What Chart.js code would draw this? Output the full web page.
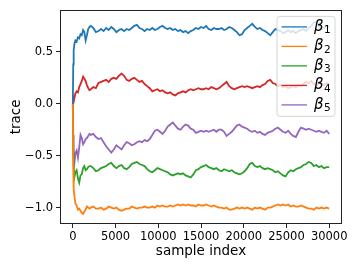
<!DOCTYPE html>
<html>
<head>
<meta charset="utf-8">
<script src="https://cdn.jsdelivr.net/npm/chart.js@4/dist/chart.umd.min.js"></script>
<style>
  body { margin: 0; background: #fff; }
  #wrap { width: 357px; height: 268px; }
</style>
</head>
<body>
<div id="wrap"><canvas id="trace"></canvas></div>
<script>
const sampleIdx = [
  0, 50, 100, 200, 300, 450, 600, 750, 900, 1050, 1200, 1350, 1500, 1650, 1800, 1950,
  2100, 2400, 2700, 3000, 3300, 3600, 3900, 4200, 4500, 4800,
  5100, 5400, 5700, 6000, 6300, 6600, 6900, 7200, 7500, 7800,
  8100, 8400, 8700, 9000, 9300, 9600, 9900, 10200, 10500, 10800,
  11100, 11400, 11700, 12000, 12300, 12600, 12900, 13200, 13500, 13800,
  14100, 14400, 14700, 15000, 15300, 15600, 15900, 16200, 16500, 16800,
  17100, 17400, 17700, 18000, 18300, 18600, 18900, 19200, 19500, 19800,
  20100, 20400, 20700, 21000, 21300, 21600, 21900, 22200, 22500, 22800,
  23100, 23400, 23700, 24000, 24300, 24600, 24900, 25200, 25500, 25800,
  26100, 26400, 26700, 27000, 27300, 27600, 27900, 28200, 28500, 28800,
  29100, 29400, 29700, 30000
]

const beta1 = [
  0, 0.38, 0.52, 0.58, 0.61, 0.60, 0.64, 0.63, 0.67, 0.66, 0.71, 0.69, 0.61, 0.66, 0.72, 0.74,
  0.75, 0.73, 0.69, 0.70, 0.72, 0.70, 0.73, 0.71, 0.74, 0.72,
  0.69, 0.71, 0.72, 0.70, 0.72, 0.71, 0.73, 0.75, 0.76, 0.73,
  0.72, 0.70, 0.72, 0.71, 0.73, 0.71, 0.72, 0.74, 0.75, 0.73,
  0.72, 0.73, 0.71, 0.72, 0.70, 0.71, 0.69, 0.70, 0.68, 0.70,
  0.71, 0.73, 0.72, 0.74, 0.73, 0.75, 0.72, 0.71, 0.73, 0.72,
  0.72, 0.73, 0.71, 0.72, 0.74, 0.73, 0.71, 0.69, 0.66, 0.67,
  0.71, 0.73, 0.75, 0.77, 0.74, 0.72, 0.73, 0.71, 0.70, 0.68,
  0.66, 0.69, 0.72, 0.71, 0.70, 0.68, 0.69, 0.71, 0.69, 0.70,
  0.68, 0.70, 0.71, 0.72, 0.70, 0.73, 0.75, 0.78, 0.79, 0.74,
  0.72, 0.73, 0.75, 0.74
]
const beta2 = [
  0, -0.62, -0.82, -0.90, -0.96, -0.98, -1.02, -1.01, -1.03, -1.05, -1.06, -1.04, -1.02, -0.99, -1.00, -1.01,
  -1.00, -0.99, -1.01, -1.01, -1.00, -1.02, -1.01, -0.99, -1.00, -1.01,
  -1.00, -1.02, -1.03, -1.02, -1.01, -1.01, -0.99, -1.00, -1.01, -1.00,
  -1.00, -0.99, -1.00, -1.00, -0.99, -1.00, -0.98, -0.99, -0.98, -0.99,
  -0.99, -0.98, -0.99, -0.98, -0.97, -0.98, -0.97, -0.98, -0.97, -0.98,
  -0.98, -0.99, -0.97, -0.98, -0.98, -0.97, -0.98, -0.99, -0.98, -0.99,
  -1.00, -1.00, -1.01, -1.00, -1.02, -1.02, -1.01, -1.00, -1.01, -1.00,
  -1.01, -1.00, -1.01, -1.02, -1.00, -1.01, -1.00, -1.01, -1.02, -1.00,
  -1.00, -0.99, -0.98, -0.97, -0.98, -0.97, -0.98, -0.97, -0.99, -0.98,
  -0.99, -0.99, -0.98, -0.99, -1.00, -1.01, -1.01, -1.02, -1.00, -1.01,
  -1.00, -1.01, -1.00, -1.01
]
const beta3 = [
  0, -0.45, -0.60, -0.70, -0.66, -0.64, -0.72, -0.76, -0.69, -0.68, -0.62, -0.60, -0.64, -0.63, -0.61, -0.60,
  -0.60, -0.62, -0.65, -0.64, -0.62, -0.61, -0.60, -0.58, -0.57, -0.60,
  -0.62, -0.60, -0.59, -0.62, -0.63, -0.61, -0.58, -0.57, -0.56, -0.58,
  -0.59, -0.60, -0.63, -0.65, -0.66, -0.64, -0.62, -0.63, -0.64, -0.65,
  -0.66, -0.68, -0.69, -0.68, -0.67, -0.68, -0.67, -0.69, -0.70, -0.71,
  -0.68, -0.64, -0.63, -0.61, -0.60, -0.59, -0.61, -0.62, -0.63, -0.62,
  -0.64, -0.65, -0.63, -0.64, -0.65, -0.64, -0.66, -0.67, -0.68, -0.67,
  -0.65, -0.62, -0.58, -0.57, -0.60, -0.61, -0.60, -0.62, -0.63, -0.62,
  -0.63, -0.64, -0.66, -0.65, -0.67, -0.69, -0.70, -0.66, -0.64, -0.65,
  -0.63, -0.62, -0.61, -0.59, -0.58, -0.56, -0.57, -0.60, -0.59, -0.61,
  -0.60, -0.62, -0.61, -0.61
]
const beta4 = [
  0, 0.08, 0.02, 0.06, 0.10, 0.12, 0.11, 0.16, 0.19, 0.22, 0.26, 0.24, 0.22, 0.18, 0.15, 0.13,
  0.14, 0.16, 0.15, 0.20, 0.21, 0.22, 0.23, 0.21, 0.24, 0.25,
  0.24, 0.27, 0.29, 0.27, 0.23, 0.22, 0.24, 0.25, 0.23, 0.21,
  0.22, 0.19, 0.17, 0.15, 0.12, 0.13, 0.14, 0.12, 0.13, 0.11,
  0.10, 0.11, 0.09, 0.08, 0.10, 0.11, 0.12, 0.11, 0.13, 0.14,
  0.13, 0.14, 0.15, 0.14, 0.14, 0.15, 0.14, 0.16, 0.15, 0.14,
  0.15, 0.17, 0.19, 0.21, 0.17, 0.15, 0.14, 0.15, 0.16, 0.17,
  0.16, 0.17, 0.16, 0.15, 0.16, 0.17, 0.16, 0.18, 0.19, 0.22,
  0.23, 0.20, 0.19, 0.17, 0.18, 0.16, 0.17, 0.15, 0.16, 0.17,
  0.16, 0.18, 0.17, 0.19, 0.21, 0.20, 0.22, 0.19, 0.18, 0.20,
  0.19, 0.18, 0.20, 0.19
]
const beta5 = [
  0, -0.30, -0.50, -0.56, -0.48, -0.45, -0.52, -0.42, -0.30, -0.33, -0.39, -0.37, -0.34, -0.33, -0.31, -0.29,
  -0.30, -0.29, -0.32, -0.34, -0.33, -0.37, -0.41, -0.44, -0.47, -0.44,
  -0.40, -0.42, -0.44, -0.40, -0.37, -0.38, -0.40, -0.39, -0.37, -0.36,
  -0.37, -0.35, -0.36, -0.34, -0.30, -0.26, -0.25, -0.27, -0.29, -0.26,
  -0.22, -0.20, -0.18, -0.21, -0.24, -0.25, -0.22, -0.20, -0.21, -0.24,
  -0.25, -0.28, -0.27, -0.26, -0.27, -0.26, -0.27, -0.26, -0.25, -0.27,
  -0.25, -0.25, -0.27, -0.31, -0.29, -0.27, -0.24, -0.21, -0.20, -0.22,
  -0.23, -0.24, -0.26, -0.27, -0.26, -0.28, -0.27, -0.29, -0.30, -0.28,
  -0.27, -0.26, -0.24, -0.23, -0.25, -0.27, -0.28, -0.26, -0.29, -0.31,
  -0.32, -0.27, -0.23, -0.24, -0.25, -0.24, -0.25, -0.26, -0.27, -0.26,
  -0.27, -0.28, -0.26, -0.29
]

const seriesNames = ["1", "2", "3", "4", "5"] // subscripts of beta
const seriesColors = ["#1f77b4", "#ff7f0e", "#2ca02c", "#d62728", "#9467bd"]
const xTicks = [0, 5000, 10000, 15000, 20000, 25000, 30000]
const yTicks = [-1.0, -0.5, 0.0, 0.5]

const FONT = "'DejaVu Sans', sans-serif"

const datasets = [beta1, beta2, beta3, beta4, beta5].map((vals, i) => ({
  label: seriesNames[i],
  data: vals.map((v, j) => ({ x: sampleIdx[j], y: v })),
  borderColor: seriesColors[i],
  borderWidth: 1.8,
  pointRadius: 0,
  tension: 0,
}))

// matplotlib-ish legend box inside the axes, upper right
const betaLegend = {
  id: "betaLegend",
  afterDatasetsDraw(chart) {
    const ctx = chart.ctx
    const a = chart.chartArea
    const w = 58, h = 100
    const x0 = a.right - 7 - w, y0 = a.top + 6.5
    ctx.save()
    ctx.beginPath()
    ctx.roundRect(x0, y0, w, h, 3)
    ctx.fillStyle = "rgba(255,255,255,0.8)"
    ctx.fill()
    ctx.strokeStyle = "rgba(204,204,204,0.8)"
    ctx.lineWidth = 1
    ctx.stroke()
    chart.data.datasets.forEach((ds, i) => {
      const cy = y0 + 10.5 + i * 19.5
      ctx.strokeStyle = ds.borderColor
      ctx.lineWidth = 1.3
      ctx.beginPath()
      ctx.moveTo(x0 + 4.5, cy)
      ctx.lineTo(x0 + 30, cy)
      ctx.stroke()
      ctx.fillStyle = "#000"
      ctx.textBaseline = "middle"
      ctx.textAlign = "left"
      ctx.font = "italic 15px " + FONT
      ctx.fillText("\u03b2", x0 + 37, cy)
      const bw = ctx.measureText("\u03b2").width
      ctx.font = "10.5px " + FONT
      ctx.fillText(ds.label, x0 + 37 + bw + 0.5, cy + 3.5)
    })
    ctx.restore()
  },
  afterDraw(chart) {
    const ctx = chart.ctx
    const a = chart.chartArea
    ctx.save()
    ctx.strokeStyle = "#222"
    ctx.lineWidth = 1
    ctx.strokeRect(Math.round(a.left) + 0.5, Math.round(a.top) + 0.5,
      Math.round(a.right - a.left) - 1, Math.round(a.bottom - a.top) - 1)
    ctx.restore()
  },
}

const traceConfig = {
  type: "line",
  data: { datasets },
  options: {
    responsive: true,
    maintainAspectRatio: false,
    animation: false,
    layout: { padding: { left: 0, right: 15, top: 8, bottom: 0 } },
    plugins: {
      legend: { display: false },
      tooltip: { enabled: false },
    },
    scales: {
      x: {
        type: "linear",
        min: -1500,
        max: 31500,
        afterBuildTicks: (s) => { s.ticks = xTicks.map((v) => ({ value: v })) },
        afterFit: (s) => { s.height = 44 },
        grid: { drawOnChartArea: false, tickLength: 4, color: "#222" },
        border: { display: false },
        ticks: {
          color: "#000",
          padding: 2,
          maxRotation: 0,
          font: { family: FONT, size: 11.5 },
          callback: (v) => String(v),
        },
        title: {
          display: true,
          text: "sample index",
          color: "#000",
          font: { family: FONT, size: 13.5 },
          padding: { top: 0, bottom: 8 },
        },
      },
      y: {
        min: -1.158,
        max: 0.904,
        afterBuildTicks: (s) => { s.ticks = yTicks.map((v) => ({ value: v })) },
        afterFit: (s) => { s.width = 60 },
        grid: { drawOnChartArea: false, tickLength: 4, color: "#222" },
        border: { display: false },
        ticks: {
          color: "#000",
          padding: 3,
          font: { family: FONT, size: 11.5 },
          callback: (v) => (v < 0 ? "\u2212" : "") + Math.abs(v).toFixed(1),
        },
        title: {
          display: true,
          text: "trace",
          color: "#000",
          font: { family: FONT, size: 13.5 },
          padding: { top: 8, bottom: 0 },
        },
      },
    },
  },
  plugins: [betaLegend],
}

new Chart(document.getElementById("trace"), traceConfig)
</script>
</body>
</html>
